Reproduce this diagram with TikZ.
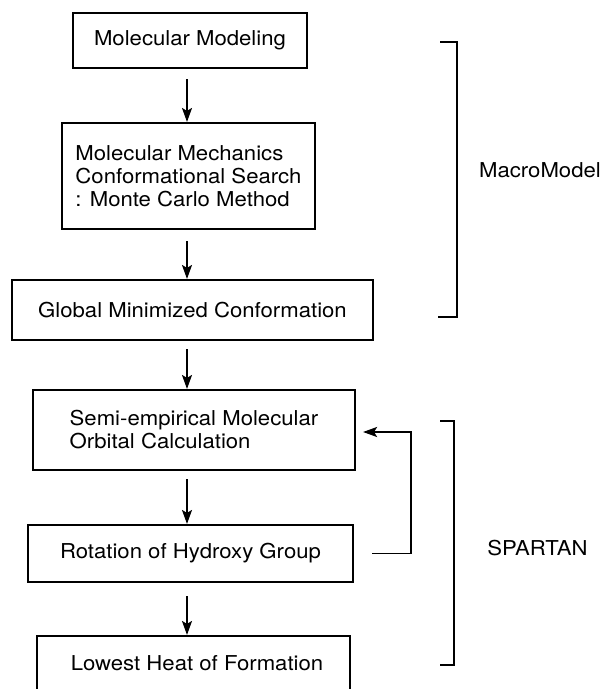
\documentclass[tikz,border=0pt]{standalone}
\usepackage{fontspec}
\setmainfont[FakeStretch=1.08]{TeX Gyre Heros}
\usetikzlibrary{arrows.meta}

\begin{document}
\begin{tikzpicture}[x=1pt, y=-1pt,
  every node/.style={font=\fontsize{20.5}{23}\selectfont},
  box/.style={draw, line width=2.1pt, inner sep=0pt},
  flow/.style={-{Stealth[length=14pt,width=10pt,inset=3pt]}, line width=1.9pt},
  brace/.style={line width=2.5pt}]
  % Frame
  \clip (0,0) rectangle (606,689);

  % Axis of the down arrows
  \coordinate (ax) at (187,0);

  % Boxes
  \node[box, minimum width=234pt, minimum height=55pt] (model) at (190,40.5) {Molecular Modeling};
  \node[box, minimum width=253pt, minimum height=106pt, align=left] (search) at (188.5,176)
      {Molecular Mechanics\\Conformational Search\\: Monte Carlo Method};
  \node[box, minimum width=361pt, minimum height=60pt] (global) at (192.5,310) {Global Minimized Conformation};
  \node[box, minimum width=322pt, minimum height=80pt, align=left] (semi) at (194,430)
      {Semi-empirical Molecular\\Orbital Calculation};
  \node[box, minimum width=325pt, minimum height=57pt] (rot) at (190.5,553.5) {Rotation of Hydroxy Group};
  \node[box, minimum width=313pt, minimum height=66pt] (heat) at (193.5,669) {};
  \node at (197,663) {Lowest Heat of Formation};

  % Down arrows
  \draw[flow, shorten <=10pt] (model.south -| ax) -- (search.north -| ax);
  \draw[flow, shorten <=11pt] (search.south -| ax) -- (global.north -| ax);
  \draw[flow, shorten <=8pt] (global.south -| ax) -- (semi.north -| ax);
  \draw[flow, shorten <=8pt] (semi.south -| ax) -- (rot.north -| ax);
  \draw[flow, shorten <=13pt] (rot.south -| ax) -- (heat.north -| ax);

  % Loop back
  \draw[flow, shorten <=18pt, shorten >=7pt] (rot.east) -- ++(57,0) |- ([yshift=-2pt]semi.east);

  % Program brackets
  \draw[brace] (440,42) -- (457,42) -- (457,317) -- (438,317);
  \node (macro) at (540,170) {MacroModel};
  \draw[brace] (440,421) -- (454,421) -- (454,665) -- (440,665);
  \node (spartan) at (537.5,548) {SPARTAN};
\end{tikzpicture}
\end{document}
